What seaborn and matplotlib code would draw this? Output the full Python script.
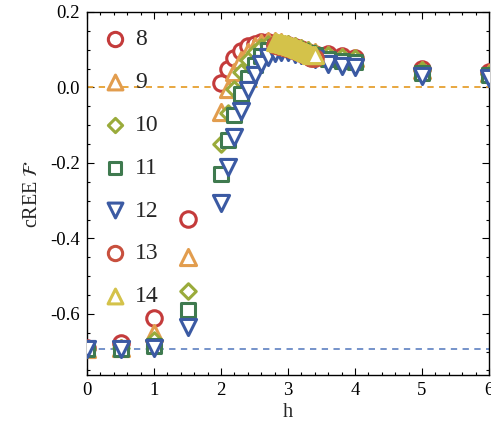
import numpy as np
import pandas as pd
import matplotlib
matplotlib.use("Agg")
import matplotlib.pyplot as plt
from matplotlib.ticker import MultipleLocator, FormatStrFormatter
import seaborn as sns

# ---------------------------------------------------------------
# data
# ---------------------------------------------------------------
h_main = [0, 0.5, 1, 1.5, 2.0, 2.1, 2.2, 2.3, 2.4, 2.5, 2.6, 2.7, 2.8, 2.9,
          3.0, 3.1, 3.2, 3.3, 3.4, 3.6, 3.8, 4.0, 5, 6]

y8 = [-0.690, -0.677, -0.612, -0.348, 0.012, 0.050, 0.078, 0.097, 0.109, 0.116,
      0.120, 0.121, 0.119, 0.116, 0.112, 0.107, 0.101, 0.095, 0.089,
      0.088, 0.083, 0.079, 0.048, 0.040]
y9 = [-0.692, -0.690, -0.652, -0.450, -0.065, -0.005, 0.040, 0.072, 0.095, 0.110,
      0.119, 0.123, 0.123, 0.120, 0.116, 0.111, 0.105, 0.099, 0.093,
      0.087, 0.082, 0.078, 0.046, 0.038]
y10 = [-0.692, -0.690, -0.670, -0.540, -0.150, -0.068, -0.005, 0.040, 0.073, 0.095,
       0.108, 0.116, 0.119, 0.118, 0.115, 0.110, 0.104, 0.098, 0.092,
       0.086, 0.081, 0.077, 0.045, 0.036]
y11 = [-0.693, -0.692, -0.684, -0.590, -0.230, -0.140, -0.072, -0.018, 0.026, 0.060,
       0.084, 0.099, 0.106, 0.108, 0.106, 0.102, 0.097, 0.091, 0.085,
       0.076, 0.071, 0.067, 0.039, 0.032]
y12 = [-0.693, -0.693, -0.690, -0.635, -0.305, -0.210, -0.130, -0.062, -0.008, 0.032,
       0.062, 0.082, 0.092, 0.095, 0.093, 0.089, 0.085, 0.080, 0.075,
       0.063, 0.058, 0.053, 0.031, 0.025]

h_big = [2.800, 2.825, 2.850, 2.875, 2.900, 2.925, 2.950, 2.975, 3.000, 3.025,
         3.050, 3.075, 3.100, 3.125, 3.150, 3.175, 3.200, 3.225, 3.250, 3.275,
         3.300, 3.325, 3.350, 3.375, 3.400]
y13 = [0.112, 0.1115, 0.111, 0.110, 0.109, 0.108, 0.1068, 0.1055, 0.104, 0.1025,
       0.101, 0.0995, 0.098, 0.0963, 0.0945, 0.0928, 0.091, 0.089, 0.087, 0.085,
       0.083, 0.081, 0.079, 0.078, 0.077]
y14 = [0.120, 0.1195, 0.119, 0.118, 0.117, 0.116, 0.1148, 0.1135, 0.112, 0.1105,
       0.109, 0.1075, 0.106, 0.1043, 0.1025, 0.1008, 0.099, 0.097, 0.095, 0.093,
       0.091, 0.089, 0.087, 0.086, 0.085]

sizes = ["8", "9", "10", "11", "12", "13", "14"]
colors = ["#c43b3b", "#e29d4e", "#9aab3b", "#3f7a4f", "#3b5aa3", "#c8503e", "#d4c24a"]
markers = ["o", "^", "D", "s", "v", "o", "^"]
msizes = [125, 135, 62, 92, 135, 125, 135]

series = [(h_main, y8), (h_main, y9), (h_main, y10), (h_main, y11),
          (h_main, y12), (h_big, y13), (h_big, y14)]

ln2 = -np.log(2)

# ---------------------------------------------------------------
# style
# ---------------------------------------------------------------
sns.set_theme(style="ticks")
plt.rcParams["font.family"] = ["Liberation Serif", "DejaVu Serif"]
plt.rcParams["mathtext.fontset"] = "stix"
plt.rcParams["font.size"] = 13.5

fig = plt.figure(figsize=(4.91, 4.38), dpi=100)
ax = fig.add_axes([87 / 491, 63 / 438, 402 / 491, 363 / 438])

ax.axhline(0.0, color="#e6a030", ls=(0, (3.5, 3)), lw=1.3, zorder=1)
ax.axhline(ln2, color="#6a8ac6", ls=(0, (3.5, 3)), lw=1.3, zorder=1)

for i, (lab, (hx, yy)) in enumerate(zip(sizes, series)):
    df = pd.DataFrame({"h": hx, "f": yy})
    sns.scatterplot(data=df, x="h", y="f", ax=ax, marker=markers[i],
                    s=msizes[i], facecolor="white", edgecolor=colors[i],
                    linewidth=2.2, label=lab, zorder=3 + i)

ax.set_xlim(0, 6)
ax.set_ylim(-0.762, 0.2)
ax.xaxis.set_major_locator(MultipleLocator(1))
ax.xaxis.set_minor_locator(MultipleLocator(0.2))
ax.yaxis.set_major_locator(MultipleLocator(0.2))
ax.yaxis.set_minor_locator(MultipleLocator(0.05))
ax.yaxis.set_major_formatter(FormatStrFormatter("%.1f"))
ax.tick_params(which="both", direction="in", top=True, right=True,
               colors="black", labelsize=13.5, width=0.8)
ax.tick_params(which="major", length=5, pad=5)
ax.tick_params(which="minor", length=2.5)
for sp in ax.spines.values():
    sp.set_visible(True)
    sp.set_color("black")
    sp.set_linewidth(1.0)

ax.set_xlabel("h", fontsize=14.5, labelpad=3)
ax.set_ylabel(r"cREE $\mathcal{F}$", fontsize=14.5, labelpad=6)

ax.legend(loc="upper left", bbox_to_anchor=(0, 0.986), frameon=False,
          fontsize=17, labelspacing=0.9, handletextpad=0.16,
          borderaxespad=0.25, borderpad=0.25, handlelength=1.38,
          markerscale=0.92)

fig.savefig("out.png", dpi=100)
